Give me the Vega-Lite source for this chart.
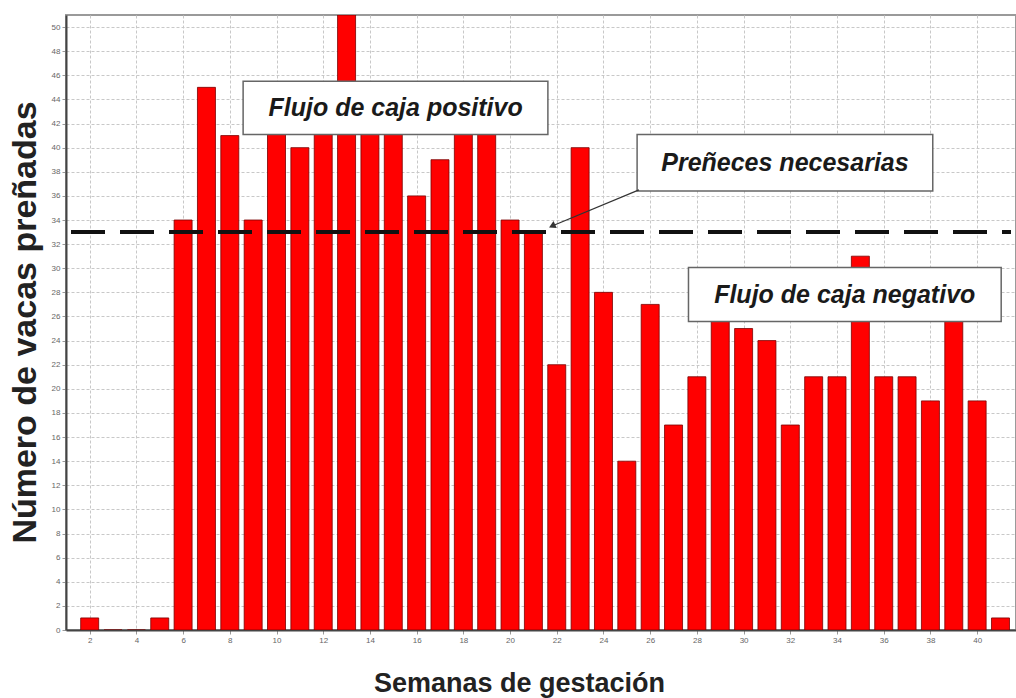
{
  "$schema": "https://vega.github.io/schema/vega-lite/v6.json",
  "width": 950,
  "height": 615,
  "autosize": {"type": "none"},
  "padding": {"left": 66, "top": 15, "right": 0, "bottom": 68},
  "background": "white",
  "config": {
    "view": {"stroke": "#9a9a9a", "strokeWidth": 2},
    "font": "Liberation Sans"
  },
  "datasets": {
    "bars": [
      {"week": 2, "count": 1}, {"week": 3, "count": 0}, {"week": 4, "count": 0}, {"week": 5, "count": 1},
      {"week": 6, "count": 34}, {"week": 7, "count": 45}, {"week": 8, "count": 41}, {"week": 9, "count": 34},
      {"week": 10, "count": 42}, {"week": 11, "count": 40}, {"week": 12, "count": 42}, {"week": 13, "count": 51},
      {"week": 14, "count": 42}, {"week": 15, "count": 42}, {"week": 16, "count": 36}, {"week": 17, "count": 39},
      {"week": 18, "count": 42}, {"week": 19, "count": 42}, {"week": 20, "count": 34}, {"week": 21, "count": 33},
      {"week": 22, "count": 22}, {"week": 23, "count": 40}, {"week": 24, "count": 28}, {"week": 25, "count": 14},
      {"week": 26, "count": 27}, {"week": 27, "count": 17}, {"week": 28, "count": 21}, {"week": 29, "count": 27},
      {"week": 30, "count": 25}, {"week": 31, "count": 24}, {"week": 32, "count": 17}, {"week": 33, "count": 21},
      {"week": 34, "count": 21}, {"week": 35, "count": 31}, {"week": 36, "count": 21}, {"week": 37, "count": 21},
      {"week": 38, "count": 19}, {"week": 39, "count": 27}, {"week": 40, "count": 19}, {"week": 41, "count": 1}
    ],
    "boxes": [
      {"label": "Flujo de caja positivo", "x1": 8.57, "x2": 21.62, "y1": 45.5, "y2": 41.1, "xc": 15.1, "yc": 43.3},
      {"label": "Preñeces necesarias", "x1": 25.44, "x2": 38.1, "y1": 41.1, "y2": 36.4, "xc": 31.77, "yc": 38.75},
      {"label": "Flujo de caja negativo", "x1": 27.64, "x2": 41.03, "y1": 30.07, "y2": 25.58, "xc": 34.33, "yc": 27.8}
    ],
    "arrow": [
      {"xa": 25.52, "ya": 36.5, "xb": 21.8, "yb": 33.5}
    ],
    "threshold": [
      {"needed": 33, "start": 1.2, "end": 41.45}
    ]
  },
  "layer": [
    {
      "data": {"name": "bars"},
      "mark": {"type": "bar", "width": 18, "fill": "#ff0000", "stroke": "#7a0000", "strokeWidth": 0.8, "clip": true},
      "encoding": {
        "x": {
          "field": "week", "type": "quantitative",
          "scale": {"domain": [1.2, 41.45], "nice": false, "zero": false},
          "axis": {
            "values": [2,4,6,8,10,12,14,16,18,20,22,24,26,28,30,32,34,36,38,40],
            "tickCount": 20,
            "labelFontSize": 8, "labelColor": "#666", "tickColor": "#999", "tickSize": 4,
            "labelOverlap": false,
            "domainColor": "#444", "domainWidth": 2,
            "grid": true, "gridColor": "#c8c8c8", "gridDash": [3, 2], "gridWidth": 1,
            "title": "Semanas de gestación",
            "titleFont": "Liberation Sans", "titleFontSize": 27, "titleFontWeight": "bold",
            "titleColor": "#222", "titleX": 453, "titleY": 61, "titleBaseline": "alphabetic", "titleAlign": "center"
          }
        },
        "y": {
          "field": "count", "type": "quantitative",
          "scale": {"domain": [0, 51], "nice": false},
          "axis": {
            "values": [0,2,4,6,8,10,12,14,16,18,20,22,24,26,28,30,32,34,36,38,40,42,44,46,48,50],
            "tickCount": 26,
            "labelFontSize": 8, "labelColor": "#666", "tickColor": "#999", "tickSize": 4,
            "labelOverlap": false,
            "domainColor": "#444", "domainWidth": 2,
            "grid": true, "gridColor": "#c8c8c8", "gridDash": [3, 2], "gridWidth": 1,
            "title": "Número de vacas preñadas",
            "titleFontSize": 34, "titleFontWeight": "bold", "titleColor": "#222",
            "titleX": -31, "titleY": 307, "titleAngle": -90, "titleBaseline": "alphabetic", "titleAlign": "center"
          }
        }
      }
    },
    {
      "data": {"name": "threshold"},
      "mark": {"type": "rule", "color": "#111", "strokeWidth": 4, "strokeDash": [34, 15]},
      "encoding": {
        "x": {"field": "start", "type": "quantitative"},
        "x2": {"field": "end"},
        "y": {"field": "needed", "type": "quantitative"}
      }
    },
    {
      "data": {"name": "boxes"},
      "mark": {"type": "rect", "fill": "white", "stroke": "#666", "strokeWidth": 1.5},
      "encoding": {
        "x": {"field": "x1", "type": "quantitative"},
        "x2": {"field": "x2"},
        "y": {"field": "y1", "type": "quantitative"},
        "y2": {"field": "y2"}
      }
    },
    {
      "data": {"name": "boxes"},
      "mark": {"type": "text", "font": "Liberation Sans", "fontSize": 25, "fontStyle": "italic", "fontWeight": "bold", "color": "#1a1a1a", "align": "center", "baseline": "middle"},
      "encoding": {
        "x": {"field": "xc", "type": "quantitative"},
        "y": {"field": "yc", "type": "quantitative"},
        "text": {"field": "label"}
      }
    },
    {
      "data": {"name": "arrow"},
      "mark": {"type": "rule", "color": "#333", "strokeWidth": 1.2},
      "encoding": {
        "x": {"field": "xa", "type": "quantitative"},
        "x2": {"field": "xb"},
        "y": {"field": "ya", "type": "quantitative"},
        "y2": {"field": "yb"}
      }
    },
    {
      "data": {"name": "arrow"},
      "mark": {"type": "point", "shape": "triangle-up", "filled": true, "color": "#333", "size": 60, "angle": 245, "opacity": 1},
      "encoding": {
        "x": {"field": "xb", "type": "quantitative"},
        "y": {"field": "yb", "type": "quantitative"}
      }
    }
  ]
}
